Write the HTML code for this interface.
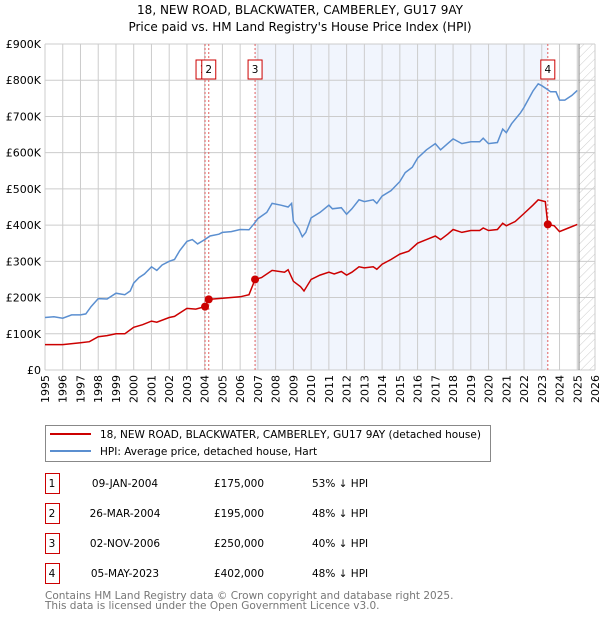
<!DOCTYPE html>
<html><head><meta charset="utf-8"><style>
body{margin:0;background:#fff;font-family:"DejaVu Sans","Liberation Sans",sans-serif;}
svg text{font-family:"DejaVu Sans","Liberation Sans",sans-serif;}
</style></head><body>
<svg id="c" width="600" height="620" xmlns="http://www.w3.org/2000/svg">
<defs><pattern id="hatch" width="6" height="6" patternUnits="userSpaceOnUse" patternTransform="rotate(45)"><line x1="0" y1="0" x2="0" y2="6" stroke="#ccc" stroke-width="1"/></pattern></defs>
<text x="300" y="14" text-anchor="middle" font-size="12">18, NEW ROAD, BLACKWATER, CAMBERLEY, GU17 9AY</text>
<text x="300" y="31" text-anchor="middle" font-size="12">Price paid vs. HM Land Registry's House Price Index (HPI)</text>
<g id="plot"></g>
<g>
<rect x="45.5" y="425.5" width="445" height="36" fill="#fff" stroke="#888"/>
<line x1="50" y1="434" x2="91" y2="434" stroke="#cc0000" stroke-width="2"/>
<text x="100" y="438" font-size="10.5">18, NEW ROAD, BLACKWATER, CAMBERLEY, GU17 9AY (detached house)</text>
<line x1="50" y1="451" x2="91" y2="451" stroke="#5b8fd0" stroke-width="2"/>
<text x="100" y="455" font-size="10.5">HPI: Average price, detached house, Hart</text>
</g>
<g id="table" font-size="10.5"></g>
<text x="45" y="599" font-size="10.5" fill="#777">Contains HM Land Registry data © Crown copyright and database right 2025.</text>
<text x="45" y="609" font-size="10.5" fill="#777">This data is licensed under the Open Government Licence v3.0.</text>
</svg>
<script>
const hpiT=[1995,1995.5,1996,1996.5,1997,1997.3,1997.6,1998,1998.5,1999,1999.5,1999.8,2000,2000.3,2000.6,2001,2001.3,2001.6,2002,2002.3,2002.6,2003,2003.3,2003.6,2004,2004.3,2004.8,2005,2005.5,2006,2006.5,2006.8,2007,2007.5,2007.8,2008.3,2008.7,2008.9,2009,2009.3,2009.5,2009.7,2010,2010.5,2011,2011.2,2011.7,2012,2012.3,2012.7,2013,2013.5,2013.7,2014,2014.5,2015,2015.3,2015.7,2016,2016.5,2017,2017.3,2017.7,2018,2018.5,2019,2019.5,2019.7,2020,2020.5,2020.8,2021,2021.3,2021.8,2022,2022.5,2022.8,2023,2023.3,2023.5,2023.8,2024,2024.3,2024.7,2025];
const hpiV=[145,147,143,152,152,155,175,197,196,212,208,218,240,255,265,285,275,290,300,305,330,355,360,348,360,370,375,380,382,388,387,405,418,435,460,455,450,460,410,390,368,380,420,435,455,445,448,430,445,470,465,470,460,480,495,520,545,560,585,608,625,608,625,638,625,630,630,640,625,628,665,655,680,710,725,770,790,785,775,768,768,745,745,758,772];
const ppT=[1995,1996,1997,1997.5,1998,1998.5,1999,1999.5,2000,2000.5,2001,2001.3,2002,2002.3,2003,2003.5,2004.02,2004.23,2005,2006,2006.5,2006.84,2007.2,2007.8,2008.5,2008.7,2009,2009.4,2009.6,2010,2010.5,2011,2011.3,2011.7,2012,2012.3,2012.7,2013,2013.5,2013.7,2014,2014.5,2015,2015.5,2016,2016.5,2017,2017.3,2017.7,2018,2018.5,2019,2019.5,2019.7,2020,2020.5,2020.8,2021,2021.5,2022,2022.5,2022.8,2023.2,2023.34,2023.7,2024,2024.5,2025];
const ppV=[70,70,75,78,92,95,100,100,118,125,135,132,145,148,170,168,175,195,198,202,208,250,255,275,270,277,245,230,218,250,262,270,265,272,262,270,285,282,285,278,292,305,320,328,350,360,370,360,375,388,380,385,385,392,385,388,405,398,410,432,455,470,465,402,398,382,392,402];
const saleT=[2004.02,2004.23,2006.84,2023.34];
const saleV=[175,195,250,402];
const saleLabels=["1","2","3","4"];
const saleDates=["09-JAN-2004","26-MAR-2004","02-NOV-2006","05-MAY-2023"];
const salePrices=["£175,000","£195,000","£250,000","£402,000"];
const saleDiffs=["53% ↓ HPI","48% ↓ HPI","40% ↓ HPI","48% ↓ HPI"];
const yTicks=[0,100,200,300,400,500,600,700,800,900];
const yTickLabels=["£0","£100K","£200K","£300K","£400K","£500K","£600K","£700K","£800K","£900K"];
const years=[1995,1996,1997,1998,1999,2000,2001,2002,2003,2004,2005,2006,2007,2008,2009,2010,2011,2012,2013,2014,2015,2016,2017,2018,2019,2020,2021,2022,2023,2024,2025,2026];

const L=45,R=595,T=44,B=370;
const x=t=>L+(t-1995)/31*(R-L);
const y=v=>B-v/900*(B-T);
const NS="http://www.w3.org/2000/svg";
const g=document.getElementById('plot');
function mk(tag,attrs,parent){const e=document.createElementNS(NS,tag);for(const k in attrs)e.setAttribute(k,attrs[k]);(parent||g).appendChild(e);return e;}
// shading
let sh=mk('rect',{x:x(2006.84),y:T,width:x(2023.34)-x(2006.84),height:B-T,fill:'#eef2fc',opacity:0.8});


let ht=mk('rect',{x:x(2025.1),y:T,width:R-x(2025.1),height:B-T,fill:'url(#hatch)'});


yTicks.forEach((v,i)=>{
  let l=mk('line',{x1:L,x2:R,y1:y(v),y2:y(v),stroke:'#ccc','stroke-width':1});
  
  
  let t=mk('text',{x:L-4,y:y(v)+4,'text-anchor':'end','font-size':11});
  t.textContent=yTickLabels[i];
  
  
});
years.forEach(yr=>{
  let l=mk('line',{x1:x(yr),x2:x(yr),y1:T,y2:B,stroke:'#ccc','stroke-width':1});
  
  
  let t=mk('text',{x:0,y:0,'text-anchor':'end','font-size':11,transform:`translate(${x(yr)+4},${B+5}) rotate(-90)`});
  t.textContent=yr;
  
  
});
let vl=mk('line',{x1:x(2025.1),x2:x(2025.1),y1:T,y2:B,stroke:'#888','stroke-width':1});


saleT.forEach((t,i)=>{
  let l=mk('line',{x1:x(t),x2:x(t),y1:T,y2:B,stroke:'#e06060','stroke-width':1,'stroke-dasharray':'2,2'});
  
  
});
function path(T_,V,color,name){
  let d=T_.map((t,i)=>(i?'L':'M')+x(t).toFixed(1)+','+y(V[i]).toFixed(1)).join('');
  let p=mk('path',{d,fill:'none',stroke:color,'stroke-width':1.5});
  
  
}
path(hpiT,hpiV,'#5b8fd0','hpi-line');
path(ppT,ppV,'#cc0000','price-paid-line');
saleT.forEach((t,i)=>{
  let c=mk('circle',{cx:x(t),cy:y(saleV[i]),r:4,fill:'#cc0000'});
  
  
});
saleT.forEach((t,i)=>{
  let bx=x(t)-7-(i===0?2:0);
  let r=mk('rect',{x:bx,y:60,width:14,height:19,fill:'#fff',stroke:'#cc0000'});
  
  
  let tx=mk('text',{x:bx+7,y:73,'text-anchor':'middle','font-size':10.5});
  tx.textContent=saleLabels[i];
  
  
});
const tb=document.getElementById('table');
saleLabels.forEach((s,i)=>{
  const yy=483+i*30;
  let r=mk('rect',{x:45.5,y:yy-9.5,width:14,height:20,fill:'#fff',stroke:'#cc0000'},tb);
  
  
  const cells=[[52,s,'middle'],[125,saleDates[i],'middle'],[239,salePrices[i],'middle'],[312,saleDiffs[i],'start']];
  cells.forEach(c=>{
    let t=mk('text',{x:c[0],y:yy+4,'text-anchor':c[2]},tb);
    t.textContent=c[1];
    
    
  });
});
</script>
</body></html>
